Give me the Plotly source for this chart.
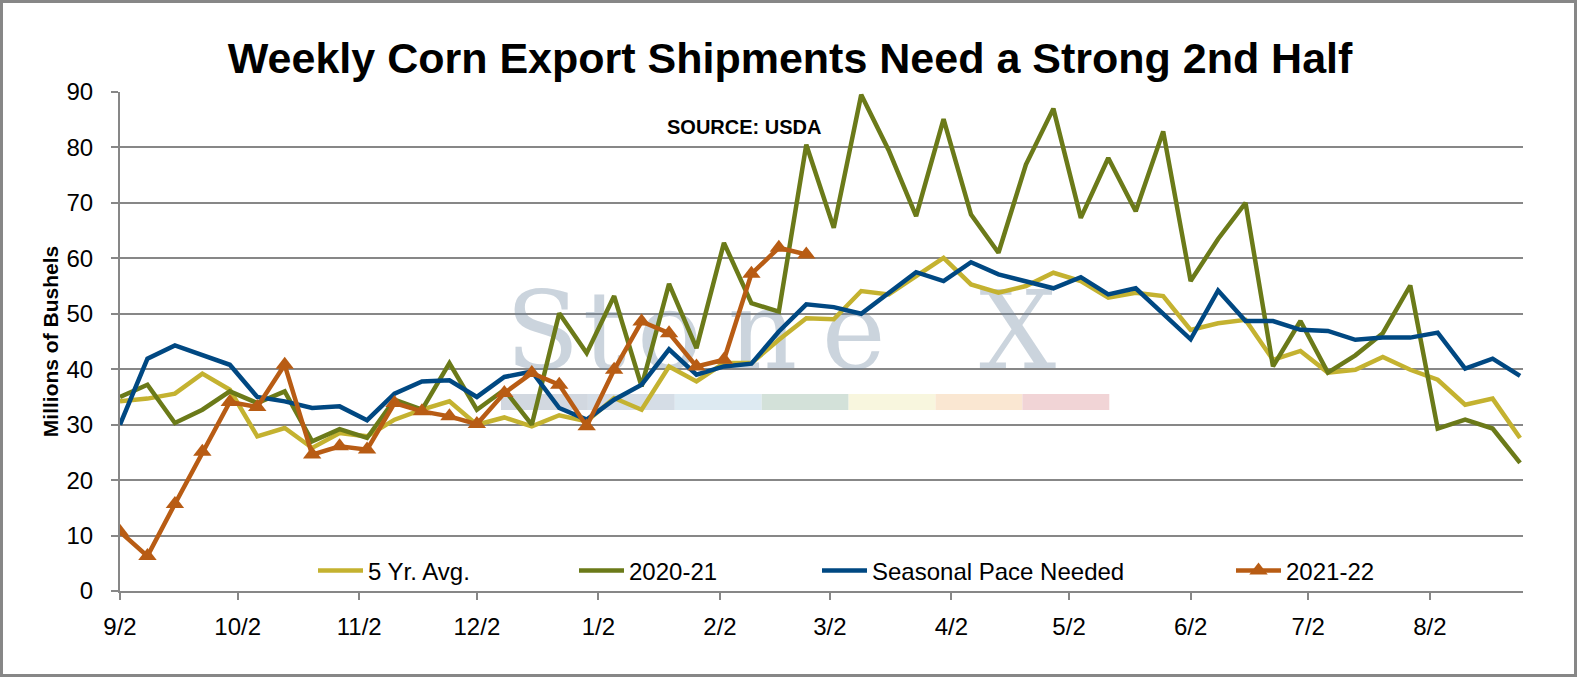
import pandas as pd
import plotly.graph_objects as go

# weekly shipments, millions of bushels (marketing year starts 9/2)
weeks = pd.date_range("2021-09-02", periods=52, freq="7D")

five_yr_avg = [34.2, 34.7, 35.6, 39.2, 36.3, 27.9, 29.4, 25.8, 28.5, 27.9,
               30.9, 32.7, 34.2, 30.0, 31.3, 29.7, 31.7, 30.6, 34.8, 32.7,
               40.5, 37.8, 41.1, 41.1, 45.3, 49.2, 49.0, 54.1, 53.5, 56.8,
               60.1, 55.3, 53.8, 55.0, 57.4, 55.9, 52.9, 53.8, 53.2, 47.1,
               48.3, 48.9, 41.7, 43.3, 39.4, 39.9, 42.2, 39.9, 38.1, 33.6,
               34.7, 27.6]

my_2020_21 = [35.0, 37.2, 30.3, 32.7, 36.0, 33.9, 36.0, 27.0, 29.2, 27.6,
              34.5, 32.7, 41.1, 32.7, 36.3, 30.0, 50.1, 42.9, 53.2, 36.9,
              55.4, 43.8, 62.8, 51.9, 50.4, 80.5, 65.5, 89.5, 79.5, 67.6,
              85.1, 67.9, 61.0, 76.9, 87.0, 67.3, 78.1, 68.5, 82.9, 55.9,
              63.5, 70.0, 40.5, 48.7, 39.4, 42.5, 46.5, 55.1, 29.3, 30.9,
              29.3, 23.1]

seasonal_pace = [30.0, 41.9, 44.3, 42.5, 40.8, 35.0, 34.2, 33.0, 33.3, 30.8,
                 35.6, 37.8, 38.0, 35.0, 38.6, 39.6, 33.0, 30.9, 34.5, 37.2,
                 43.6, 39.0, 40.5, 41.0, 46.8, 51.7, 51.2, 50.0, 53.8, 57.5,
                 55.9, 59.3, 57.1, 55.8, 54.6, 56.6, 53.5, 54.6, 49.9, 45.4,
                 54.2, 48.7, 48.7, 47.1, 46.9, 45.3, 45.7, 45.7, 46.6, 40.1,
                 41.9, 38.8]

my_2021_22 = [10.7, 6.3, 15.7, 25.1, 34.1, 33.2, 40.8, 24.6, 26.1, 25.5,
              33.9, 32.4, 31.5, 30.1, 35.7, 39.3, 37.2, 29.7, 39.9, 48.6,
              46.5, 40.5, 41.7, 57.2, 61.9, 60.7]

tick_dates = pd.date_range("2021-09-01", periods=12, freq="MS") + pd.Timedelta(days=1)
tick_labels = ["9/2", "10/2", "11/2", "12/2", "1/2", "2/2",
               "3/2", "4/2", "5/2", "6/2", "7/2", "8/2"]

# figure geometry
W, H = 1577, 677
ML, MR, MT, MB = 120, 54, 92, 86
PW, PH = W - ML - MR, H - MT - MB


def px_x(px):
    return (px - ML) / PW


def px_y(py):
    return (H - MB - py) / PH


# pixel -> data for the watermark text (drawn as a trace so lines sit on top)
def px_date(px):
    return pd.Timestamp("2021-09-02") + pd.Timedelta(days=(px - 120.7) / 3.92)


def px_val(py):
    return (H - MB - py) / (PH / 90)


gray = "#878787"

fig = go.Figure()

wm_letters = ["S", "t", "o", "n", "e", "X"]
wm_centers = [543, 605, 670, 763, 854, 1018]
fig.add_trace(go.Scatter(
    x=[px_date(c) for c in wm_centers], y=[px_val(341)] * 6,
    mode="text", text=wm_letters, textposition="middle center",
    textfont=dict(family="DejaVu Serif", size=108, color="rgba(112,135,161,0.36)"),
    hoverinfo="skip", showlegend=False))

fig.add_trace(go.Scatter(x=weeks, y=five_yr_avg, name="5 Yr. Avg.", mode="lines",
                         line=dict(color="#c4b230", width=4.5), legend="legend"))
fig.add_trace(go.Scatter(x=weeks, y=my_2020_21, name="2020-21", mode="lines",
                         line=dict(color="#6b7a19", width=4.5), legend="legend2"))
fig.add_trace(go.Scatter(x=weeks, y=seasonal_pace, name="Seasonal Pace Needed", mode="lines",
                         line=dict(color="#004882", width=4.5), legend="legend3"))
fig.add_trace(go.Scatter(x=weeks[:len(my_2021_22)], y=my_2021_22, name="2021-22",
                         mode="lines+markers",
                         line=dict(color="#b85c14", width=4.5),
                         marker=dict(symbol="triangle-up", size=16, color="#b85c14"),
                         legend="legend4"))

# colour strip under the watermark
strip_colors = ["#d2d8e0", "#d5dde6", "#ddeaf2", "#d3e1d9", "#f8f6de", "#fae7d2", "#f1d4d6"]
shapes = []
for k, c in enumerate(strip_colors):
    x0 = 501 + k * 86.9
    shapes.append(dict(type="rect", xref="paper", yref="paper",
                       x0=px_x(x0), x1=px_x(x0 + 86.9), y0=px_y(410), y1=px_y(394),
                       fillcolor=c, line=dict(width=0), layer="below"))
# outer frame
shapes.append(dict(type="rect", xref="paper", yref="paper",
                   x0=px_x(1.5), x1=px_x(W - 1.5), y0=px_y(H - 1.5), y1=px_y(1.5),
                   line=dict(color=gray, width=3), fillcolor="rgba(0,0,0,0)"))


def leg(px):
    # px = where the legend text should start
    return dict(x=px_x(px - 54), y=px_y(571), xanchor="left", yanchor="middle",
                orientation="h", bgcolor="rgba(0,0,0,0)", itemwidth=45,
                font=dict(family="Liberation Sans", size=24, color="black"))


fig.update_layout(
    width=W, height=H,
    margin=dict(l=ML, r=MR, t=MT, b=MB),
    paper_bgcolor="white", plot_bgcolor="rgba(0,0,0,0)",
    font=dict(family="Liberation Sans", size=24, color="black"),
    title=dict(text="<b>Weekly Corn Export Shipments Need a Strong 2nd Half</b>",
               x=0.501, xanchor="center", y=0.915, yanchor="middle",
               font=dict(family="Liberation Sans", size=43, color="black")),
    xaxis=dict(type="date", range=[pd.Timestamp("2021-09-02"), pd.Timestamp("2022-08-25 18:00")],
               tickvals=tick_dates, ticktext=tick_labels, ticks="outside", ticklen=7,
               tickwidth=2, tickcolor=gray, showline=True, linecolor=gray, linewidth=2,
               showgrid=False, zeroline=False, ticklabelstandoff=6,
               tickfont=dict(size=24)),
    yaxis=dict(range=[0, 90], dtick=10, ticks="outside", ticklen=7, tickwidth=2,
               tickcolor=gray, showline=True, linecolor=gray, linewidth=2,
               showgrid=True, gridcolor=gray, gridwidth=2, zeroline=False,
               ticklabelstandoff=13, tickfont=dict(size=24),
               title=dict(text="<b>Millions of Bushels</b>", standoff=2,
                          font=dict(size=21))),
    legend=leg(367), legend2=leg(628), legend3=leg(871), legend4=leg(1285),
    shapes=shapes,
    annotations=[dict(text="<b>SOURCE: USDA</b>", xref="paper", yref="paper",
                      x=px_x(744), y=px_y(127), yanchor="middle", showarrow=False,
                      font=dict(size=20, color="black"))],
)

fig.write_html("out.html", config={"displayModeBar": False},
               post_script="document.body.style.margin='0';")
